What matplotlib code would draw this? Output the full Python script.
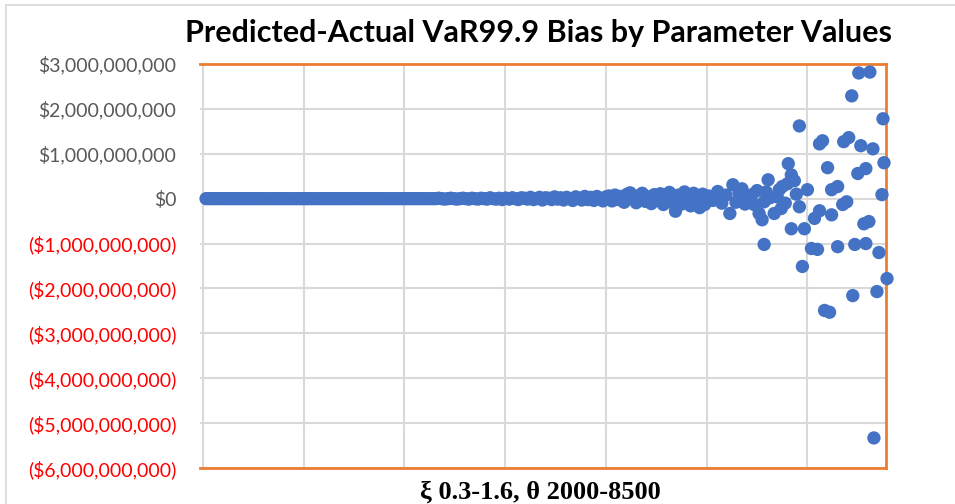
import matplotlib
matplotlib.use("Agg")
import matplotlib.pyplot as plt
from matplotlib.ticker import FuncFormatter, MultipleLocator
from matplotlib.lines import Line2D

# ---------------- data (observation index, bias in $ billions) ----------------
stable_x = [3, 6, 9, 12, 15, 18, 21, 24, 27, 30, 33, 36, 39, 42, 45, 48, 51, 54, 57, 60,
            63, 66, 69, 72, 75, 78, 81, 84, 87, 90, 93, 96, 99, 102, 105, 108, 111, 114, 117,
            120, 123, 126, 129, 132, 135, 138, 141, 144, 147, 150, 153, 156, 159, 162, 165,
            168, 171, 174, 177, 180, 183, 186, 189, 192, 195, 198, 201, 204, 207, 210, 213,
            216, 219, 222, 225, 228, 231, 234, 237, 240, 243, 246, 249, 252, 255, 258, 261,
            264, 267, 270, 273, 276, 279, 282, 285, 288, 291, 294, 297, 300]
stable_y = [0.0, 0.0, 0.0, 0.0, 0.0, 0.0, 0.0, 0.0, 0.0, 0.0, 0.0, 0.0, 0.0, 0.0, 0.0, 0.0,
            0.0, 0.0, 0.0, 0.0, 0.0, 0.0, 0.0, 0.0, 0.0, 0.0, 0.0, 0.0, 0.0, 0.0, 0.0, 0.0,
            0.0, 0.0, 0.0, 0.0, 0.0, 0.0, 0.0, 0.0, 0.0, 0.0, 0.0, 0.0, 0.0, 0.0, 0.0, 0.0,
            0.0, 0.0, 0.0, 0.0, 0.0, 0.0, 0.0, 0.0, 0.0, 0.0, 0.0, 0.0, 0.0, 0.0, 0.0, 0.0,
            0.0, 0.0, 0.0, 0.0, 0.0, 0.0, 0.0, 0.0, 0.0, 0.0, 0.0, 0.0, 0.0, 0.01, 0.0, -0.01,
            0.0, 0.01, 0.0, -0.01, 0.0, 0.01, 0.0, -0.01, 0.01, 0.0, -0.01, 0.01, 0.0, -0.01,
            0.02, 0.0, -0.01, 0.01, -0.02, 0.01]

mid_x = [301, 304, 307, 310, 313, 316, 319, 322, 325, 328, 331, 334, 337, 340, 343, 346,
         349, 352, 355, 358, 361, 364, 367, 370, 373, 376, 379, 382, 385, 388, 391, 394,
         397, 400,
         403, 406, 409, 412, 415, 418, 421, 424, 427, 430, 433, 436, 439, 442, 445, 448,
         451, 454, 457, 460, 463, 466, 469, 472, 475, 478, 481, 484, 487, 490, 493, 496, 499]
mid_y = [0.01, -0.01, 0.02, 0.0, -0.02, 0.02, 0.01, -0.01, 0.03, -0.02, 0.0, 0.03, -0.03,
         0.02, 0.01, -0.02, 0.04, -0.01, 0.02, -0.03, 0.03, 0.0, -0.04, 0.04, 0.01, -0.03,
         0.05, -0.02, 0.03, -0.04, 0.05, 0.0, -0.05, 0.04,
         0.06, -0.05, 0.08, -0.02, 0.05, -0.08, 0.10, 0.13, 0.02, -0.09, 0.07, 0.12, -0.06,
         0.04, -0.11, 0.09, -0.04, 0.11, -0.13, 0.06, 0.14, -0.09, -0.28, 0.08, -0.12, 0.15,
         0.05, -0.16, 0.12, -0.08, -0.20, 0.10, -0.05]

tail_x = [498, 502, 506, 511, 515, 519, 523, 526, 529, 532, 535, 538, 541, 545, 547, 550,
          552, 555, 557, 557, 559, 561, 563, 567, 570, 572, 574, 575, 578, 580, 581, 584,
          584, 587, 589, 592, 592,
          600, 597, 595, 604, 610, 607, 612, 612, 615, 617, 622, 620, 624, 624, 630, 630,
          635, 639, 636, 641, 644, 645, 647, 650, 658, 651, 662, 653, 656, 661, 658, 665,
          666, 669, 671, 674, 675, 676, 679]
tail_y = [-0.13, 0.06, -0.04, 0.16, -0.10, 0.08, -0.33, 0.31, -0.08, 0.12, 0.22, -0.12,
          0.05, 0.09, -0.13, 0.18, -0.33, -0.47, -1.02, -0.07, 0.15, 0.42, 0.02, -0.33, 0.04,
          0.20, -0.22, 0.27, -0.10, 0.33, 0.78, 0.53, -0.67, 0.40, 0.10, -0.18, 1.62,
          0.20, -0.67, -1.51, -1.11, -1.13, -0.44, -0.27, 1.22, 1.29, -2.49, -2.53, 0.69,
          -0.36, 0.20, 0.27, -1.07, -0.13, -0.07, 1.27, 1.36, 2.29, -2.16, -1.02, 0.56, 0.67,
          2.80, 2.82, 1.18, -0.56, -0.51, -1.00, 1.11, -5.33, -2.07, -1.20, 0.09, 1.78, 0.80,
          -1.78]

y_ticks_bn = [3, 2, 1, 0, -1, -2, -3, -4, -5, -6]

title = "Predicted-Actual VaR99.9 Bias by Parameter Values"
x_label = "\u03be 0.3-1.6, \u03b8 2000-8500"

# ---------------- figure ----------------
W, H = 955, 504
fig = plt.figure(figsize=(W / 100, H / 100), dpi=100)
L, R, T, B = 200, 886, 64, 468
ax = fig.add_axes([L / W, 1 - B / H, (R - L) / W, (B - T) / H])

blue = "#4472C4"
xs = stable_x + mid_x + tail_x
ys = [v * 1e9 for v in stable_y + mid_y + tail_y]
ax.scatter(xs, ys, s=92, color=blue, edgecolors="none", zorder=3, clip_on=False)

ax.set_xlim(-3, 678)
ax.set_ylim(-6e9, 3e9)
ax.xaxis.set_major_locator(MultipleLocator(100))
ax.set_yticks([v * 1e9 for v in y_ticks_bn])
ax.grid(True, color="#D9D9D9", linewidth=1.5, zorder=0)
ax.set_axisbelow(True)
ax.tick_params(axis="x", length=0, labelbottom=False)
ax.tick_params(axis="y", length=0, pad=17)


def money(v, pos):
    b = int(round(v / 1e9))
    if b == 0:
        return "$0"
    s = "${:,}".format(abs(b) * 1000000000)
    return "(" + s + ")" if b < 0 else s


ax.yaxis.set_major_formatter(FuncFormatter(money))
for lab, v in zip(ax.get_yticklabels(), ax.get_yticks()):
    lab.set_fontfamily("Lato")
    lab.set_fontsize(14)
    lab.set_color("#FF0000" if v < 0 else "#595959")

orange = "#ED7D31"
for side in ["top", "right", "bottom"]:
    ax.spines[side].set_color(orange)
    ax.spines[side].set_linewidth(2)
ax.spines["left"].set_visible(False)

fig.text(538 / W, 1 - 33 / H, title, ha="center", va="center",
         fontfamily="Lato", fontweight="bold", fontsize=22, color="#000000")
fig.text(540 / W, 1 - 492 / H, x_label, ha="center", va="center",
         fontfamily=["Liberation Serif", "DejaVu Serif"], fontweight="bold", fontsize=19,
         color="#000000")

# outer chart-area border (left and top visible)
fig.add_artist(Line2D([6 / W, 6 / W], [0, 1 - 5 / H], color="#D9D9D9", linewidth=1.2,
                      transform=fig.transFigure))
fig.add_artist(Line2D([6 / W, 1], [1 - 5 / H, 1 - 5 / H], color="#D9D9D9", linewidth=1.2,
                      transform=fig.transFigure))

fig.savefig("out.png", dpi=100)
